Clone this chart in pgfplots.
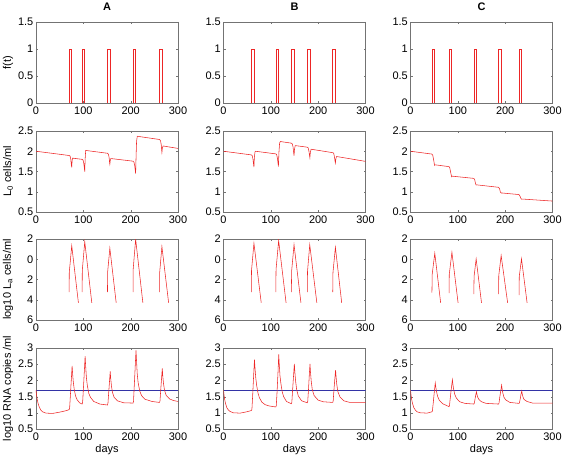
\documentclass[border=0pt]{standalone}
\usepackage{pgfplots}
\pgfplotsset{compat=1.18}
\usepackage{fontspec}
\setmainfont{Liberation Sans}
\definecolor{lred}{rgb}{0.93,0.15,0.15}
\definecolor{lblue}{rgb}{0.2,0.2,0.65}
\pgfplotsset{
  every axis/.append style={
    scale only axis, width=142bp, height=81bp, anchor=south west,
    xmin=0, xmax=300, xtick={0,100,200,300},
    axis line style={black!55}, tick style={black!55},
    major tick length=2bp, tick align=inside,
    ticklabel style={font=\fontsize{11}{13}\selectfont},
    yticklabel style={inner xsep=2.5bp},
    label style={font=\fontsize{11}{13}\selectfont},
    /pgf/number format/assume math mode=true,
    ylabel style={at={(axis description cs:-0.197,0.5)}, anchor=center},
    xlabel style={at={(axis description cs:0.5,0)}, yshift=-21bp, anchor=center},
    title style={at={(axis description cs:0.5,1)}, anchor=center, yshift=9bp, font=\bfseries\fontsize{11}{13}\selectfont},
    unbounded coords=jump,
  },
  rowf/.style={ymin=0, ymax=1.5, ytick={0,0.5,1,1.5}},
  rowl/.style={ymin=0.5, ymax=2.5, ytick={0.5,1,1.5,2,2.5}},
  rowa/.style={ymin=-6, ymax=2, ytick={-6,-4,-2,0,2}, yticklabels={6,4,2,0,2}},
  rowr/.style={ymin=0.5, ymax=3, ytick={0.5,1,1.5,2,2.5,3}},
  rl/.style={color=lred, line width=0.55pt},
  bl/.style={color=lblue, line width=0.55pt},
}
\begin{document}
\begin{tikzpicture}
\useasboundingbox (0bp,0bp) rectangle (565bp,462bp);
% ---------------- Row 1: f(t)
\begin{axis}[at={(36bp,359bp)}, rowf, title={A}, ylabel={f(t)}]
\addplot[rl] coordinates {(0,0)(70,0)(70,1)(75.5,1)(75.5,0)(97.5,0)(97.5,1)(103,1)(103,0)(151,0)(151,1)(156,1)(156,0)(205,0)(205,1)(210.5,1)(210.5,0)(261,0)(261,1)(266,1)(266,0)(300,0)};
\end{axis}
\begin{axis}[at={(223.5bp,359bp)}, rowf, title={B}]
\addplot[rl] coordinates {(0,0)(58.7,0)(58.7,1)(64.3,1)(64.3,0)(110.5,0)(110.5,1)(116,1)(116,0)(143.4,0)(143.4,1)(149,1)(149,0)(177,0)(177,1)(182.5,1)(182.5,0)(230.8,0)(230.8,1)(236.4,1)(236.4,0)(300,0)};
\end{axis}
\begin{axis}[at={(410.5bp,359bp)}, rowf, title={C}]
\addplot[rl] coordinates {(0,0)(45.3,0)(45.3,1)(51,1)(51,0)(81.4,0)(81.4,1)(87,1)(87,0)(133.8,0)(133.8,1)(138.7,1)(138.7,0)(186,0)(186,1)(191.8,1)(191.8,0)(229.3,0)(229.3,1)(235,1)(235,0)(300,0)};
\end{axis}
% ---------------- Row 2: L0
\begin{axis}[at={(36bp,250bp)}, rowl, ylabel={L\textsubscript{0} cells/ml}]
\addplot[rl] coordinates {(0,2.0)(70,1.895)(72,1.88)(73.5,1.8)(74.5,1.68)(75.5,1.6)(76.2,1.75)(77,1.83)(97.5,1.80)(99.5,1.78)(101,1.7)(102.2,1.58)(103,1.5)(103.8,1.8)(105,2.02)(151,1.95)(153,1.93)(154.5,1.84)(155.5,1.72)(156,1.68)(157,1.78)(158.2,1.82)(205,1.755)(207,1.73)(208.5,1.65)(209.8,1.52)(210.5,1.45)(211.5,1.9)(212.5,2.25)(214,2.37)(261,2.29)(263,2.26)(264.5,2.17)(265.5,2.03)(266,1.97)(267,2.08)(268.5,2.13)(300,2.07)};
\end{axis}
\begin{axis}[at={(223.5bp,250bp)}, rowl]
\addplot[rl] coordinates {(0,2.0)(58.7,1.91)(60.7,1.89)(62.2,1.81)(63.4,1.69)(64.3,1.61)(65.2,1.85)(66.5,1.98)(67.5,2.0)(110.5,1.935)(112.5,1.91)(114,1.82)(115.2,1.7)(116,1.62)(117,1.95)(118.5,2.2)(120,2.24)(143.4,2.2)(145.4,2.18)(147,2.1)(148.2,1.97)(149,1.89)(150,2.05)(151.5,2.14)(177,2.1)(179,2.08)(180.5,2.0)(181.7,1.9)(182.5,1.84)(183.5,1.97)(185,2.05)(230.8,1.965)(232.8,1.95)(234.3,1.87)(235.6,1.76)(236.4,1.71)(237.4,1.82)(239,1.87)(300,1.75)};
\end{axis}
\begin{axis}[at={(410.5bp,250bp)}, rowl]
\addplot[rl] coordinates {(0,2.0)(45.3,1.93)(47,1.9)(49,1.78)(50.5,1.67)(51,1.65)(52,1.665)(81.4,1.62)(83,1.59)(85,1.47)(86.5,1.39)(87,1.37)(88,1.385)(133.8,1.33)(135.5,1.3)(137.5,1.2)(138.7,1.165)(140,1.17)(186,1.11)(188,1.08)(190,0.99)(191.8,0.965)(193,0.97)(229.3,0.93)(231,0.9)(233,0.84)(235,0.815)(236,0.82)(300,0.77)};
\end{axis}
% ---------------- Row 3: log10 La
\begin{axis}[at={(36bp,142bp)}, rowa, ylabel={log10 L\textsubscript{a} cells/ml}]
\addplot[rl] coordinates {(70,-3.25)(70.3,-1.3)(75.5,1.34)(89.6,-4.3)(89.7,nan)
(97.5,-3.25)(97.8,-1.1)(103,1.73)(117.9,-4.3)(118,nan)
(151,-3.25)(151.3,-1.3)(156,1.1)(169.4,-4.3)(169.5,nan)
(205,-3.25)(205.3,-1.0)(210.5,1.98)(225.8,-4.3)(225.9,nan)
(261,-3.25)(261.3,-1.3)(266,1.25)(280.2,-4.3)};
\end{axis}
\begin{axis}[at={(223.5bp,142bp)}, rowa]
\addplot[rl] coordinates {(58.7,-3.25)(59.2,-1.1)(64.3,1.58)(79.7,-4.3)(79.8,nan)
(110.5,-3.25)(111,-1.0)(116.5,1.84)(132.2,-4.3)(132.3,nan)
(143.4,-3.25)(143.9,-1.2)(149,1.44)(163.6,-4.3)(163.7,nan)
(177,-3.25)(177.5,-1.2)(182.2,1.44)(197.2,-4.3)(197.3,nan)
(230.8,-3.25)(231.3,-1.3)(236.4,1.18)(249.7,-4.3)};
\end{axis}
\begin{axis}[at={(410.5bp,142bp)}, rowa]
\addplot[rl] coordinates {(45.3,-3.3)(45.8,-1.5)(51.3,0.6)(63.7,-4.3)(63.8,nan)
(81.4,-3.35)(81.9,-1.5)(87.5,0.69)(100.5,-4.3)(100.6,nan)
(133.8,-3.45)(134.3,-1.7)(138.7,0.04)(150,-4.3)(150.1,nan)
(186,-3.45)(186.5,-1.6)(191.5,0.37)(205.2,-4.3)(205.3,nan)
(229.3,-3.55)(229.8,-1.7)(234.5,0.04)(246.3,-4.3)};
\end{axis}
% ---------------- Row 4: log10 RNA
\begin{axis}[at={(36bp,33bp)}, rowr, ylabel={log10 RNA copies /ml}, xlabel={days}]
\addplot[bl] coordinates {(0,1.7)(300,1.7)};
\addplot[rl] coordinates {(0,1.7)(1,1.57)(2,1.46)(4,1.31)(7,1.17)(10,1.09)(14,1.03)(21,0.99)(35,0.98)(50,1.02)(65,1.07)(70,1.1)
(71,1.13)(72.5,1.5)(74.5,2.0)(76.3,2.45)(77.4,2.2)(78.8,1.95)(80.8,1.72)(83.5,1.52)(87,1.4)(92,1.31)(97.5,1.27)
(98.5,1.32)(100,1.7)(102,2.25)(103.8,2.75)(104.9,2.45)(106.4,2.1)(108.2,1.87)(111.5,1.6)(115,1.48)(122,1.35)(135,1.27)(151,1.24)
(152,1.29)(153.5,1.6)(155.2,1.95)(156.8,2.28)(157.9,2.05)(159.4,1.83)(161.5,1.63)(165,1.48)(172,1.37)(185,1.31)(205,1.3)
(206,1.35)(207.5,1.8)(209.5,2.4)(211.3,2.93)(212.4,2.6)(213.9,2.2)(215.8,1.93)(219,1.68)(223,1.53)(230,1.42)(245,1.35)(261,1.32)
(262,1.37)(263.5,1.7)(265.2,2.05)(266.8,2.37)(267.9,2.12)(269.4,1.9)(271.5,1.7)(275,1.54)(282,1.43)(290,1.38)(300,1.35)};
\end{axis}
\begin{axis}[at={(223.5bp,33bp)}, rowr, xlabel={days}]
\addplot[bl] coordinates {(0,1.7)(300,1.7)};
\addplot[rl] coordinates {(0,1.7)(1,1.57)(2,1.45)(4,1.3)(7,1.16)(10,1.09)(14,1.04)(21,1.0)(35,0.99)(49,1.03)(58.7,1.07)
(60,1.1)(61.5,1.5)(63.5,2.1)(65.4,2.64)(66.5,2.4)(68,2.1)(70,1.85)(73,1.6)(76,1.46)(81,1.33)(88,1.25)(97,1.21)(110.5,1.18)
(111.5,1.22)(113,1.6)(115,2.2)(116.7,2.8)(117.8,2.5)(119.3,2.15)(121,1.93)(124,1.65)(127,1.5)(133,1.35)(143.4,1.28)
(144.4,1.33)(146,1.7)(148,2.15)(149.7,2.51)(150.8,2.25)(152.3,1.98)(154.5,1.72)(158,1.52)(165,1.37)(177,1.31)
(178,1.36)(179.5,1.7)(181.2,2.15)(182.7,2.51)(183.8,2.25)(185.3,1.98)(187.5,1.72)(191.5,1.53)(200,1.39)(211,1.34)(230.8,1.32)
(231.8,1.37)(233.3,1.7)(235.2,2.05)(236.8,2.32)(237.9,2.1)(239.3,1.88)(241.5,1.66)(246,1.49)(254,1.37)(267,1.32)(300,1.32)};
\end{axis}
\begin{axis}[at={(410.5bp,33bp)}, rowr, xlabel={days}]
\addplot[bl] coordinates {(0,1.7)(300,1.7)};
\addplot[rl] coordinates {(0,1.7)(1,1.57)(2,1.45)(4,1.3)(7,1.16)(10,1.09)(14,1.03)(21,1.0)(35,0.99)(45.3,1.03)
(46.3,1.06)(48,1.3)(50,1.6)(52.3,1.92)(53.4,1.8)(55,1.65)(57.5,1.5)(61,1.38)(68,1.28)(81.4,1.19)
(82.4,1.23)(84,1.45)(86,1.72)(88.5,2.02)(89.6,1.88)(91.2,1.72)(93.5,1.57)(97,1.45)(104,1.34)(115,1.29)(133.8,1.27)
(134.8,1.3)(136.3,1.42)(137.8,1.55)(139.4,1.65)(140.5,1.56)(142,1.48)(144.5,1.41)(150,1.34)(160,1.29)(186,1.27)
(187,1.3)(188.5,1.47)(190.5,1.66)(192.5,1.85)(193.6,1.73)(195.2,1.6)(197.5,1.48)(201,1.4)(210,1.32)(229.3,1.29)
(230.3,1.32)(231.8,1.43)(233.3,1.56)(235,1.67)(236.1,1.58)(237.6,1.49)(240,1.41)(246,1.35)(258,1.3)(300,1.3)};
\end{axis}
\end{tikzpicture}
\end{document}
